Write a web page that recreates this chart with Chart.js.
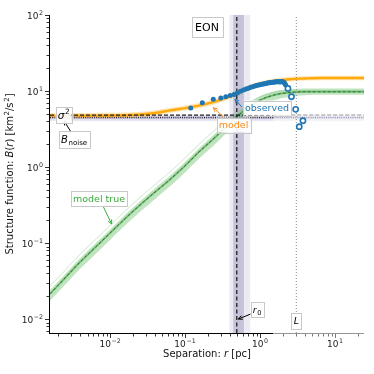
<!DOCTYPE html>
<html><head><meta charset="utf-8">
<script src="https://cdn.jsdelivr.net/npm/chart.js@4"></script>
<style>html,body{margin:0;padding:0;background:#fff}canvas{display:block}</style>
</head><body><canvas id="c" width="374" height="374"></canvas>
<script>
// ---------------- data ----------------
const rGrid   = [0.00158,0.00251,0.00398,0.00631,0.01,0.0158,0.0251,0.0398,0.0631,0.1,0.158,0.251,0.398,0.631,1.0,1.58,2.51,3.98,6.31,10,15.8,25.1];
const modelB  = [4.75,4.75,4.75,4.75,4.76,4.8,4.9,5.13,5.56,5.96,6.46,7.24,8.51,10.5,12.3,13.5,14.3,14.6,14.8,14.8,14.8,14.8];
const modelLo = [4.37,4.37,4.37,4.37,4.38,4.42,4.51,4.72,5.12,5.48,5.94,6.66,7.83,9.66,11.3,12.4,13.3,13.7,13.9,13.9,13.9,13.9];
const modelHi = [5.15,5.15,5.15,5.15,5.16,5.21,5.32,5.57,6.03,6.47,7.01,7.86,9.23,11.4,13.3,14.6,15.4,15.7,15.9,15.9,15.9,15.9];
const trueB   = [0.0214,0.0347,0.0562,0.0871,0.135,0.209,0.316,0.468,0.686,1.04,1.62,2.45,3.80,5.62,7.59,8.91,9.55,9.77,9.77,9.77,9.77,9.77];
const trueLo  = [0.0174,0.0282,0.0457,0.0708,0.110,0.170,0.257,0.380,0.557,0.845,1.32,1.99,3.09,4.57,6.3,7.6,8.4,8.8,8.9,8.9,8.9,8.9];
const trueHi  = [0.024,0.0389,0.063,0.0976,0.151,0.234,0.354,0.524,0.768,1.16,1.81,2.74,4.26,6.29,8.5,9.98,10.6,10.8,10.8,10.8,10.8,10.8];
const trueAlt = [0.027,0.0437,0.0708,0.110,0.170,0.263,0.398,0.589,0.864,1.31,2.04,3.08,4.6,6.6,8.4,9.6,10.1,10.1,10.1,10.1,10.1,10.1];

const rObs = [0.119,0.170,0.238,0.30,0.35,0.40,0.45,0.50,0.55,0.60,0.65,0.70,0.75,0.80,0.85,0.90,0.95,1.00,1.05,1.10,1.15,1.20,1.25,1.30,1.35,1.40,1.45,1.50,1.55,1.60,1.65,1.70,1.75,1.80,1.85,1.90,1.95,2.00,2.05,2.10,2.15,2.20];
const bObs = [5.97,7.0,7.78,8.1,8.4,8.7,9.0,9.4,9.9,10.3,10.6,10.9,11.2,11.4,11.6,11.8,12.0,12.1,12.3,12.4,12.5,12.6,12.7,12.8,12.8,12.9,13.0,13.0,13.1,13.1,13.2,13.2,13.2,13.2,13.1,13.2,13.3,13.2,13.1,12.9,12.5,12.0];
const rOut = [2.36,2.63,2.99,3.34,3.74];
const bOut = [10.8,8.4,5.74,3.39,4.06];

const sigma2 = 4.83;
const bNoise = 4.48;
const noiseBand = [4.0, 4.9];
const noiseCore = [4.25, 4.62];
const r0 = 0.49;
const r0Inner = [0.44, 0.61];
const r0Outer = [0.39, 0.74];
const Lscale = 3.05;
const rDataMax = 1.5;

const rRange = [0.00158, 24.4];
const bRange = [0.00655, 100];
const xTickExp = [-2,-1,0,1];
const yTickExp = [-2,-1,0,1,2];

// ---------------- chart ----------------
const xy = (xs, ys) => xs.map((x, i) => ({x, y: ys[i]}));
const hseg = (v, a, b) => [{x: a, y: v}, {x: b, y: v}];
const vseg = (r) => [{x: r, y: bRange[0]}, {x: r, y: bRange[1]}];

const datasets = [];
function add(ds) {
  const base = {pointRadius: 0, borderWidth: 0, fill: false, showLine: true, tension: 0};
  datasets.push(Object.assign(base, ds));
  return datasets.length - 1;
}
const FONT = '"DejaVu Sans"';

const oLo = add({data: xy(rGrid, modelLo), borderColor: 'rgba(0,0,0,0)', cubicInterpolationMode: 'monotone'});
add({data: xy(rGrid, modelHi), borderColor: 'rgba(0,0,0,0)', backgroundColor: 'rgba(255,165,0,0.28)', fill: oLo, cubicInterpolationMode: 'monotone'});
const gLo = add({data: xy(rGrid, trueLo), borderColor: 'rgba(0,0,0,0)', cubicInterpolationMode: 'monotone'});
add({data: xy(rGrid, trueHi), borderColor: 'rgba(0,0,0,0)', backgroundColor: 'rgba(60,170,60,0.32)', fill: gLo, cubicInterpolationMode: 'monotone'});
add({data: xy(rGrid, trueAlt), borderColor: 'rgba(60,170,60,0.18)', borderWidth: 1.2, cubicInterpolationMode: 'monotone'});
add({data: xy(rGrid, trueB), borderColor: 'rgba(60,165,60,0.55)', borderWidth: 2, cubicInterpolationMode: 'monotone'});
add({data: xy(rGrid, trueB), borderColor: 'rgba(40,95,45,0.85)', borderWidth: 1, borderDash: [3, 2], cubicInterpolationMode: 'monotone'});
add({data: xy(rGrid, modelB), borderColor: 'rgba(255,165,0,0.95)', borderWidth: 2.4, cubicInterpolationMode: 'monotone'});
add({data: hseg(sigma2, rRange[0], rDataMax), borderColor: '#222', borderWidth: 1.2, borderDash: [4, 2]});
add({data: hseg(sigma2, rDataMax, rRange[1]), borderColor: '#999', borderWidth: 1.1, borderDash: [4, 2]});
add({data: hseg(bNoise, rRange[0], rDataMax), borderColor: '#2b2540', borderWidth: 1.5, borderDash: [1, 1.2]});
add({data: hseg(bNoise, rDataMax, rRange[1]), borderColor: '#9c98b0', borderWidth: 1.4, borderDash: [1, 1.2]});
add({data: vseg(r0), borderColor: '#222', borderWidth: 1.3, borderDash: [4, 2.5]});
add({data: vseg(Lscale), borderColor: '#888', borderWidth: 1, borderDash: [1, 2]});
add({data: xy(rObs, bObs), showLine: false, pointRadius: 2.5, pointBackgroundColor: '#1f77b4', pointBorderColor: '#1f77b4', pointBorderWidth: 0});
add({data: xy(rOut, bOut), showLine: false, pointRadius: 2.6, pointBackgroundColor: '#ffffff', pointBorderColor: '#1f77b4', pointBorderWidth: 1.6});
datasets.forEach((d, i) => { d.order = 100 - i; });

function segFont(s, size) {
  const sz = (s.sh ? size * 0.7 : size);
  return (s.it ? 'italic ' : '') + sz.toFixed(2) + 'px ' + FONT;
}
function richWidth(ctx, segs, size) {
  let w = 0;
  segs.forEach(s => { ctx.font = segFont(s, size); w += ctx.measureText(s.t).width + (s.sh ? 0.6 : 0); });
  return w;
}
function drawRich(ctx, segs, x, y, size, color) {
  let cx = x;
  ctx.fillStyle = color; ctx.textAlign = 'left'; ctx.textBaseline = 'alphabetic';
  segs.forEach(s => {
    ctx.font = segFont(s, size);
    let dy = 0;
    if (s.sh === 'sup') dy = -size * 0.42;
    if (s.sh === 'sub') dy = size * 0.22;
    if (s.sh) cx += 0.6;
    ctx.fillText(s.t, cx, y + dy);
    cx += ctx.measureText(s.t).width;
  });
}
function powSegs(e) { return [{t: '10'}, {t: (e < 0 ? '\u2212' + (-e) : String(e)), sh: 'sup'}]; }

const notes = [
  {segs: [{t: 'EON'}], at: [0.196, 69.5], size: 11, color: '#000', pad: 3.5},
  {segs: [{t: '\u03c3', it: true}, {t: '2', sh: 'sup'}], at: [0.0024, 4.83], size: 10.5, color: '#000', pad: 2},
  {segs: [{t: 'B', it: true}, {t: 'noise', sh: 'sub'}], at: [0.00331, 2.29], size: 10, color: '#000', pad: 2.5,
   arrow: {from: [0.00302, 2.88], to: [0.00244, 4.03]}},
  {segs: [{t: 'observed'}], at: [1.24, 5.97], size: 9.5, color: '#1f77b4', pad: 2,
   arrow: {from: [0.570, 6.18], to: [0.464, 7.85]}},
  {segs: [{t: 'model'}], at: [0.443, 3.57], size: 9.5, color: '#ff8c1a', pad: 2,
   arrow: {from: [0.324, 4.59], to: [0.238, 6.03]}},
  {segs: [{t: 'model true'}], at: [0.00713, 0.386], size: 9.5, color: '#3aaa3a', pad: 2,
   arrow: {from: [0.00814, 0.30], to: [0.0105, 0.178]}},
  {segs: [{t: 'r', it: true}, {t: '0', sh: 'sub'}], at: [0.912, 0.0132], size: 9.5, color: '#000', pad: 2,
   arrow: {from: [0.751, 0.01164], to: [0.514, 0.0100]}},
  {segs: [{t: 'L', it: true}], at: [3.07, 0.0095], size: 9.5, color: '#000', pad: 2.5}
];

function drawArrow(ctx, x0, y0, x1, y1, color) {
  ctx.save();
  ctx.strokeStyle = color; ctx.lineWidth = 1; ctx.setLineDash([]);
  ctx.beginPath(); ctx.moveTo(x0, y0); ctx.lineTo(x1, y1); ctx.stroke();
  const ang = Math.atan2(y1 - y0, x1 - x0), L = 4.5;
  ctx.beginPath();
  ctx.moveTo(x1 - L * Math.cos(ang - 0.45), y1 - L * Math.sin(ang - 0.45));
  ctx.lineTo(x1, y1);
  ctx.lineTo(x1 - L * Math.cos(ang + 0.45), y1 - L * Math.sin(ang + 0.45));
  ctx.stroke();
  ctx.restore();
}

const deco = {
  id: 'deco',
  beforeDatasetsDraw(chart) {
    const {ctx, chartArea: a, scales: {x, y}} = chart;
    ctx.save();
    const bandH = (lo, hi, r1, r2, color) => {
      const px0 = x.getPixelForValue(r1), px1 = x.getPixelForValue(r2);
      const py0 = y.getPixelForValue(hi), py1 = y.getPixelForValue(lo);
      ctx.fillStyle = color; ctx.fillRect(px0, py0, px1 - px0, py1 - py0);
    };
    bandH(noiseBand[0], noiseBand[1], rRange[0], rDataMax, 'rgba(72,61,139,0.12)');
    bandH(noiseBand[0], noiseBand[1], rDataMax, rRange[1], 'rgba(72,61,139,0.06)');
    bandH(noiseCore[0], noiseCore[1], rRange[0], rDataMax, 'rgba(72,61,139,0.16)');
    bandH(noiseCore[0], noiseCore[1], rDataMax, rRange[1], 'rgba(72,61,139,0.07)');
    const bandV = (lo, hi, color) => {
      const px0 = x.getPixelForValue(lo), px1 = x.getPixelForValue(hi);
      ctx.fillStyle = color; ctx.fillRect(px0, a.top, px1 - px0, a.bottom - a.top);
    };
    bandV(r0Outer[0], r0Outer[1], 'rgba(72,61,139,0.1)');
    bandV(r0Inner[0], r0Inner[1], 'rgba(72,61,139,0.24)');
    ctx.restore();
  },
  afterDraw(chart) {
    const {ctx, chartArea: a, scales: {x, y}} = chart;
    ctx.save();
    ctx.lineWidth = 1; ctx.strokeStyle = '#000';
    ctx.beginPath(); ctx.moveTo(a.left - 0.5, a.top); ctx.lineTo(a.left - 0.5, a.bottom + 1); ctx.stroke();
    const xm = x.getPixelForValue(rDataMax);
    ctx.beginPath(); ctx.moveTo(a.left - 1, a.bottom + 0.5); ctx.lineTo(xm, a.bottom + 0.5); ctx.stroke();
    ctx.strokeStyle = '#8a8a8a'; ctx.lineWidth = 0.9;
    ctx.beginPath(); ctx.moveTo(xm, a.bottom + 0.5); ctx.lineTo(a.right, a.bottom + 0.5); ctx.stroke();
    ctx.lineWidth = 0.8;
    const tickVals = (lo, hi) => {
      const out = [];
      for (let e = Math.floor(Math.log10(lo)); e <= Math.ceil(Math.log10(hi)); e++)
        for (let k = 1; k <= 9; k++) { const v = k * Math.pow(10, e); if (v >= lo * 0.999 && v <= hi * 1.001) out.push([v, k === 1]); }
      return out;
    };
    tickVals(rRange[0], rRange[1]).forEach(([v, major]) => {
      const px = Math.round(x.getPixelForValue(v)) + 0.5;
      ctx.strokeStyle = v > rDataMax ? '#555' : '#000';
      ctx.beginPath(); ctx.moveTo(px, a.bottom + 1); ctx.lineTo(px, a.bottom + 1 + (major ? 4 : 2.5)); ctx.stroke();
    });
    ctx.strokeStyle = '#000';
    tickVals(bRange[0], bRange[1]).forEach(([v, major]) => {
      const py = Math.round(y.getPixelForValue(v)) + 0.5;
      ctx.beginPath(); ctx.moveTo(a.left - 1, py); ctx.lineTo(a.left - 1 - (major ? 4 : 2.5), py); ctx.stroke();
    });
    xTickExp.forEach(e => {
      const segs = powSegs(e), w = richWidth(ctx, segs, 9);
      drawRich(ctx, segs, x.getPixelForValue(Math.pow(10, e)) - w / 2, a.bottom + 14, 9, '#222');
    });
    yTickExp.forEach(e => {
      const segs = powSegs(e), w = richWidth(ctx, segs, 9);
      drawRich(ctx, segs, a.left - 7 - w, y.getPixelForValue(Math.pow(10, e)) + 3.5, 9, '#222');
    });
    const xt = [{t: 'Separation: '}, {t: 'r', it: true}, {t: ' [pc]'}];
    const xw = richWidth(ctx, xt, 10);
    drawRich(ctx, xt, (a.left + a.right) / 2 - xw / 2, 357, 10, '#111');
    const yt = [{t: 'Structure function: '}, {t: 'B', it: true}, {t: '('}, {t: 'r', it: true}, {t: ') [km'}, {t: '2', sh: 'sup'}, {t: '/s'}, {t: '2', sh: 'sup'}, {t: ']'}];
    const yw = richWidth(ctx, yt, 10);
    ctx.save();
    ctx.translate(13, (a.top + a.bottom) / 2);
    ctx.rotate(-Math.PI / 2);
    drawRich(ctx, yt, -yw / 2, 0, 10, '#111');
    ctx.restore();
    notes.forEach(n => {
      if (n.arrow) drawArrow(ctx, x.getPixelForValue(n.arrow.from[0]), y.getPixelForValue(n.arrow.from[1]),
                             x.getPixelForValue(n.arrow.to[0]), y.getPixelForValue(n.arrow.to[1]), n.color);
    });
    notes.forEach(n => {
      const cx = x.getPixelForValue(n.at[0]), cy = y.getPixelForValue(n.at[1]);
      const w = richWidth(ctx, n.segs, n.size) + 2 * n.pad;
      const h = n.size * 1.15 + 2 * n.pad;
      ctx.fillStyle = 'rgba(255,255,255,0.92)';
      ctx.fillRect(cx - w / 2, cy - h / 2, w, h);
      ctx.strokeStyle = '#c8c8c8'; ctx.lineWidth = 1; ctx.setLineDash([]);
      ctx.strokeRect(Math.round(cx - w / 2) + 0.5, Math.round(cy - h / 2) + 0.5, Math.round(w), Math.round(h));
      drawRich(ctx, n.segs, cx - w / 2 + n.pad, cy + n.size * 0.36, n.size, n.color);
    });
    ctx.restore();
  }
};

new Chart(document.getElementById('c'), {
  type: 'line',
  data: {datasets},
  options: {
    responsive: false,
    animation: false,
    devicePixelRatio: 1,
    layout: {padding: {left: 50, top: 15, right: 10, bottom: 41}},
    plugins: {legend: {display: false}, tooltip: {enabled: false}},
    scales: {
      x: {type: 'logarithmic', min: rRange[0], max: rRange[1], display: false},
      y: {type: 'logarithmic', min: bRange[0], max: bRange[1], display: false}
    }
  },
  plugins: [deco]
});
</script>
</body></html>
